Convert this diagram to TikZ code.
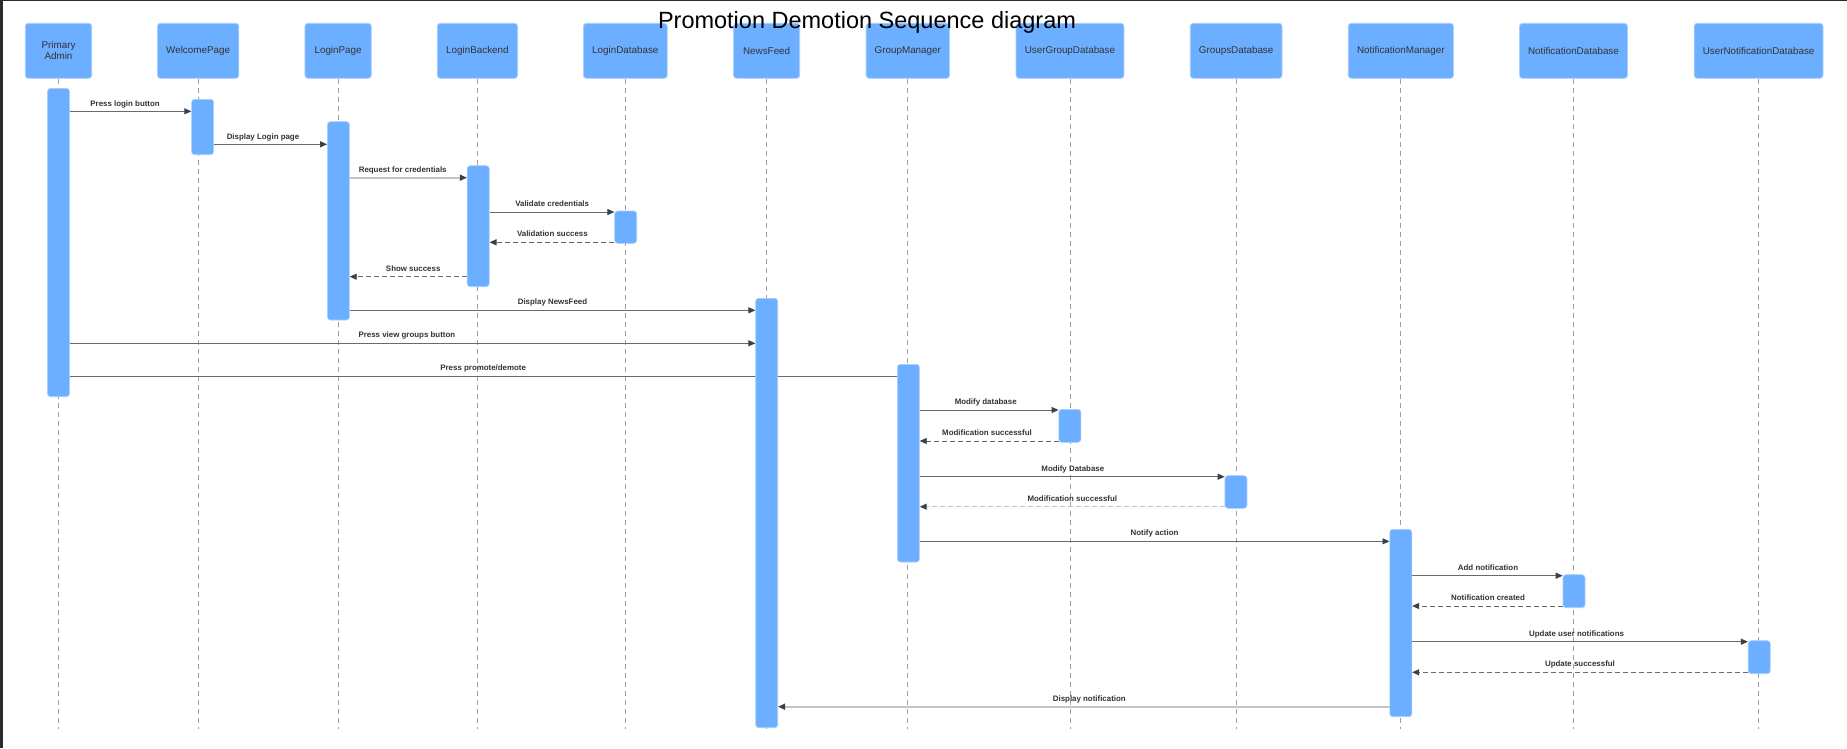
\documentclass[tikz,border=0pt]{standalone}
\usepackage{fontspec}
\setmainfont{Liberation Sans}
\usetikzlibrary{arrows.meta}
\definecolor{barblue}{HTML}{6CAEFF}
\definecolor{boxedge}{HTML}{A9CFFF}
\definecolor{txt}{HTML}{333333}
\definecolor{lifegray}{HTML}{A0A0A0}
\definecolor{msgdark}{HTML}{6A6A6A}
\definecolor{msglight}{HTML}{C4C4C4}
\definecolor{tipc}{HTML}{3C404A}
\definecolor{frame}{HTML}{2B2B2B}
\pgfdeclarelayer{bg}
\pgfsetlayers{bg,main}
\begin{document}
\begin{tikzpicture}[x=1pt,y=-1pt,
  head/.style={draw=boxedge, line width=0.8pt, fill=barblue, rounded corners=3pt,
    minimum height=55pt, inner sep=0pt, text=txt,
    font=\fontsize{9.85}{11.3}\selectfont, align=center},
  actbar/.style={draw=boxedge, line width=0.6pt, fill=barblue, rounded corners=3pt,
    minimum width=22pt, inner sep=0pt},
  life/.style={draw=lifegray, line width=0.9pt, dash pattern=on 5pt off 4pt},
  msg/.style={draw=msgdark, line width=0.9pt, -{Triangle[length=7pt,width=6pt,color=tipc]}},
  msglt/.style={msg, draw=msglight, line width=1.6pt},
  ret/.style={msg, dash pattern=on 5pt off 3pt},
  plain/.style={draw=msgdark, line width=0.9pt},
  lbl/.style={font=\fontsize{7.9}{9}\bfseries\selectfont, text=txt, inner sep=0pt, anchor=base}
]
\useasboundingbox (0,0) rectangle (1847,748);

% header boxes
\node[head, minimum width=66.4pt] (h1) at (58.5,50.8) {Primary\\Admin};
\node[head, minimum width=81.4pt] (h2) at (198.1,50.8) {WelcomePage};
\node[head, minimum width=66.4pt] (h3) at (338.1,50.8) {LoginPage};
\node[head, minimum width=80.3pt] (h4) at (477.45,50.8) {LoginBackend};
\node[head, minimum width=83.8pt] (h5) at (625.3,50.8) {LoginDatabase};
\node[head, minimum width=66.1pt] (h6) at (766.65,50.8) {NewsFeed};
\node[head, minimum width=83.4pt] (h7) at (907.8,50.8) {GroupManager};
\node[head, minimum width=107.9pt] (h8) at (1069.95,50.8) {UserGroupDatabase};
\node[head, minimum width=91.7pt] (h9) at (1236.15,50.8) {GroupsDatabase};
\node[head, minimum width=105.2pt] (h10) at (1400.9,50.8) {NotificationManager};
\node[head, minimum width=107.9pt] (h11) at (1573.45,50.8) {NotificationDatabase};
\node[head, minimum width=128.8pt] (h12) at (1758.6,50.8) {UserNotificationDatabase};

% activation bars
\node[actbar, minimum height=308.4pt] (a1) at (58.5,242.5) {};
\node[actbar, minimum height=55.4pt] (a2) at (202.6,127) {};
\node[actbar, minimum height=198.3pt] (a3) at (338.4,220.85) {};
\node[actbar, minimum height=121pt] (a4) at (478.2,226.2) {};
\node[actbar, minimum height=32.3pt] (a5) at (625.7,227.15) {};
\node[actbar, minimum height=429.4pt] (a6) at (766.7,513) {};
\node[actbar, minimum height=197.7pt] (a7) at (908.4,463.15) {};
\node[actbar, minimum height=33pt] (a8) at (1069.85,425.8) {};
\node[actbar, minimum height=32.6pt] (a9) at (1235.95,492) {};
\node[actbar, minimum height=187.4pt] (a10) at (1400.8,623) {};
\node[actbar, minimum height=33pt] (a11) at (1574,591.2) {};
\node[actbar, minimum height=33pt] (a12) at (1759.2,657.2) {};

\begin{pgfonlayer}{bg}
\fill[white] (0,0) rectangle (1847,748);
\fill[frame] (0,0) rectangle (3.2,748);
\fill[frame] (0,0) rectangle (1847,1.4);
% lifelines
\foreach \h in {h1,h2,h3,h4,h5,h6,h7,h8,h9,h10,h11,h12}
  \draw[life] (\h.south) -- (\h.south |- 0,729.3);

% messages
\draw[msg]   (a1.east |- 0,111.3) -- (a2.west |- 0,111.3);
\draw[msg]   (a2.east |- 0,144.3) -- (a3.west |- 0,144.3);
\draw[msglt] (a3.east |- 0,177.7) -- (a4.west |- 0,177.7);
\draw[msg]   (a4.east |- 0,212) -- (a5.west |- 0,212);
\draw[ret]   (a5.west |- 0,242.3) -- (a4.east |- 0,242.3);
\draw[ret]   (a4.west |- 0,276.7) -- (a3.east |- 0,276.7);
\draw[msg]   (a3.east |- 0,310.3) -- (a6.west |- 0,310.3);
\draw[msg]   (a1.east |- 0,343.3) -- (a6.west |- 0,343.3);
\draw[plain] (a1.east |- 0,376.3) -- (a7.west |- 0,376.3);
\draw[msg]   (a7.east |- 0,410) -- (a8.west |- 0,410);
\draw[ret]   (a8.west |- 0,441) -- (a7.east |- 0,441);
\draw[msg]   (a7.east |- 0,476.7) -- (a9.west |- 0,476.7);
\draw[ret, draw=msglight, line width=1.2pt] (a9.west |- 0,506.7) -- (a7.east |- 0,506.7);
\draw[msg]   (a7.east |- 0,541.3) -- (a10.west |- 0,541.3);
\draw[msg]   (a10.east |- 0,575.7) -- (a11.west |- 0,575.7);
\draw[ret]   (a11.west |- 0,606) -- (a10.east |- 0,606);
\draw[msg]   (a10.east |- 0,641.7) -- (a12.west |- 0,641.7);
\draw[ret]   (a12.west |- 0,672.3) -- (a10.east |- 0,672.3);
\draw[msglt] (a10.west |- 0,706.7) -- (a6.east |- 0,706.7);
\end{pgfonlayer}

% labels
\node[lbl] (l1) at (125.1,106.1) {Press login button};
\node[lbl] (l2) at (263,139.1) {Display Login page};
\node[lbl] (l3) at (402.7,172.1) {Request for credentials};
\node[lbl] (l4) at (552.2,206.8) {Validate credentials};
\node[lbl] (l5) at (552.4,236.5) {Validation success};
\node[lbl] (l6) at (413.2,271.1) {Show success};
\node[lbl] (l7) at (552.5,304.5) {Display NewsFeed};
\node[lbl] (l8) at (406.9,337.5) {Press view groups button};
\node[lbl] (l9) at (483.2,370.5) {Press promote/demote};
\node[lbl] (l10) at (985.7,404.8) {Modify database};
\node[lbl] (l11) at (987,435.5) {Modification successful};
\node[lbl] (l12) at (1072.8,471.5) {Modify Database};
\node[lbl] (l13) at (1072.3,501.1) {Modification successful};
\node[lbl] (l14) at (1154.5,535.8) {Notify action};
\node[lbl] (l15) at (1488,570.8) {Add notification};
\node[lbl] (l16) at (1488,600.5) {Notification created};
\node[lbl] (l17) at (1576.6,636.1) {Update user notifications};
\node[lbl] (l18) at (1580,666.5) {Update successful};
\node[lbl] (l19) at (1089.3,701.5) {Display notification};

% title
\node[font=\fontsize{23.5}{28}\selectfont, text=black, anchor=base, inner sep=0pt] (title) at (867,28.3) {Promotion Demotion Sequence diagram};
\end{tikzpicture}
\end{document}
